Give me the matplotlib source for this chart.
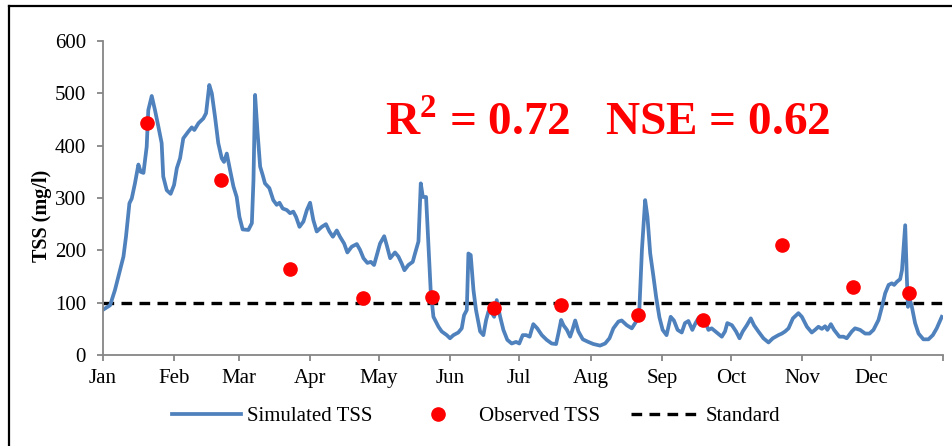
import numpy as np
import matplotlib
matplotlib.use("Agg")
import matplotlib.pyplot as plt
from matplotlib.lines import Line2D

plt.rcParams['font.family'] = ['Liberation Serif', 'DejaVu Serif']
plt.rcParams['mathtext.fontset'] = 'custom'
plt.rcParams['mathtext.rm'] = 'Liberation Serif'
plt.rcParams['mathtext.bf'] = 'Liberation Serif:bold'

# simulated TSS (day of year, mg/l)
sim_day = [0.3, 3.2, 5.3, 7.5, 9, 10.1, 11.6, 12.6, 14, 15.5, 16.5, 17.7, 19.1, 19.8, 21.3,
           22.7, 24.2, 25.6, 26.3, 27.8, 29.5, 31, 32.2, 33.6, 35, 37.2, 38.7, 39.8, 41.6,
           43.7, 44.9, 46.3, 47.4, 48.8, 50.2, 51.7, 52.7, 53.9, 55.3, 56.8, 58.2, 59.4,
           60.8, 63.3, 64.8, 65.5, 66.2, 67.2, 68.4, 69.5, 70.5, 72.4, 74.1, 75.6, 76.8,
           78.2, 80, 81.4, 82.8, 84, 85.5, 87.2, 88.7, 90.1, 91.5, 93, 95.2, 97, 98.5, 100,
           101.7, 103.1, 104.9, 106.3, 108.2, 110.4, 111.8, 113.3, 115, 116.5, 117.9, 119.3,
           120.5, 122.3, 123.4, 124.9, 127, 128.5, 129.9, 131.1, 132.8, 134.7, 135.7, 137.2,
           138.2, 139.1, 140.5, 141.5, 142.5, 143.7, 145.9, 147.3, 149.5, 150.9, 152.4,
           154.5, 156, 157, 158.2, 158.9, 159.9, 161.1, 162.2, 164, 165.4, 166.6, 167.6,
           169.1, 170.1, 171.2, 172.7, 174.1, 175.8, 177.7, 179.6, 181, 182.5, 184, 185.5,
           187.1, 188.8, 190.8, 192.9, 195.1, 197, 198, 199.2, 200.2, 201.7, 203.1, 204.1,
           205.3, 206.7, 208.6, 211, 213.2, 216.1, 218.3, 220.2, 221.9, 224.1, 225.5, 227.7,
           229.9, 231.8, 233.2, 234.3, 235.7, 236.7, 237.9, 239.3, 240.5, 241.9, 243.3, 245,
           246.8, 248.2, 249.8, 251.6, 253, 254.5, 256.2, 257.6, 258.8, 261, 263.2, 264.6,
           266.8, 269, 270.4, 271.4, 273.4, 275.2, 276.7, 278.1, 279.9, 281.6, 283, 284.9,
           287.1, 289.3, 291.2, 293.6, 295.1, 296.5, 298, 299.9, 302.3, 303.8, 306, 308.1,
           309.5, 311, 312.5, 313.9, 314.9, 316.4, 317.8, 320.1, 321.9, 323.3, 325.5, 326.9,
           329.1, 331.3, 333.2, 334.9, 337.1, 338.6, 340, 341.5, 342.9, 343.9, 345.1, 346.5,
           347.3, 348.7, 349.4, 349.9, 350.6, 351.6, 353, 354.5, 356.6, 358.8, 360.7, 362.4,
           364.6]
sim_tss = [87, 95, 124, 162, 188, 226, 290, 299, 328, 364, 350, 348, 398, 468, 495,
           468, 436, 405, 341, 315, 308, 325, 357, 376, 414, 427, 435, 430, 443,
           452, 462, 516, 500, 455, 405, 376, 369, 385, 354, 322, 302, 264,
           240, 239, 252, 334, 497, 430, 360, 344, 328, 319, 296, 287, 291,
           280, 277, 271, 274, 264, 245, 255, 277, 291, 258, 236, 245, 250, 236, 226,
           238, 226, 213, 196, 207, 212, 201, 185, 176, 178, 172, 194,
           213, 227, 210, 185, 196, 188, 175, 162, 172, 178, 194, 217,
           328, 302, 302, 213, 124, 73, 54, 45, 38, 32, 38,
           43, 51, 76, 86, 194, 191, 124, 86, 45, 38, 67, 83,
           80, 73, 105, 73, 48, 29, 22, 25, 22, 38, 38, 35,
           59, 51, 38, 29, 22, 21, 41, 67, 57, 48, 35, 48,
           66, 45, 30, 25, 21, 18, 22, 32, 51, 64, 66, 57,
           51, 64, 89, 201, 296, 264, 194, 150, 110, 72, 48, 38,
           73, 66, 48, 43, 61, 65, 48, 61, 70, 73, 48, 51,
           43, 35, 45, 61, 57, 45, 32, 45, 57, 70, 57, 45,
           32, 24, 32, 38, 41, 45, 51, 70, 80, 73, 54, 43,
           48, 54, 50, 55, 48, 59, 48, 35, 35, 32, 45, 51,
           48, 41, 41, 48, 67, 92, 118, 134, 137, 134, 140, 145,
           162, 248, 150, 92, 108, 92, 61, 41, 30, 30, 38, 51,
           73]

# observed TSS
obs_day = [19.3, 51.5, 81.5, 113.2, 143.2, 170, 199.2, 232.6, 261, 295, 326.1, 350.4]
obs_tss = [443, 334, 164, 109, 111, 90, 95, 77, 67, 210, 130, 118]

standard = 100
month_start = [0, 31, 59, 90, 120, 151, 181, 212, 243, 273, 304, 334]
month_names = ["Jan", "Feb", "Mar", "Apr", "May", "Jun", "Jul", "Aug", "Sep", "Oct", "Nov", "Dec"]

fig = plt.figure(figsize=(9.53, 4.46), dpi=100)
ax = fig.add_axes([0.1078, 0.204, 0.8814, 0.704])

l1, = ax.plot(sim_day, sim_tss, color='#4F81BD', lw=2.7, label="Simulated TSS", zorder=2)
l2, = ax.plot(obs_day, obs_tss, 'o', color='red', ms=9.5, label="Observed TSS", zorder=3)
l3, = ax.plot([0, 365], [standard, standard], color='black', lw=2.4,
              dashes=(3.2, 2.2), label="Standard", zorder=1)

ax.set_xlim(0, 365)
ax.set_ylim(0, 600)
ax.set_yticks(np.arange(0, 601, 100))
ax.set_xticks(month_start + [365])
ax.set_xticklabels(month_names + [""])

for s in ['top', 'right']:
    ax.spines[s].set_visible(False)
for s in ['left', 'bottom']:
    ax.spines[s].set_color('#868686')
    ax.spines[s].set_linewidth(1.3)
ax.tick_params(axis='both', colors='#868686', labelcolor='black', labelsize=15,
               length=4, width=1.3, direction='out')
ax.tick_params(axis='x', pad=6)
ax.tick_params(axis='y', pad=8)

ax.set_ylabel("TSS (mg/l)", fontsize=14.5, fontweight='bold')
ax.yaxis.set_label_coords(-0.0604, 0.4436)

ax.text(219.6, 443, r"R$^{\mathbf{2}}$ = 0.72   NSE = 0.62", color='red', fontsize=34,
        fontweight='bold', ha='center', va='center')

fig.legend(handles=[l1, l2, l3], loc='center', bbox_to_anchor=(0.5, 0.066), ncol=3,
           frameon=False, fontsize=15, handlelength=3.3, columnspacing=1.5,
           handletextpad=0.3)

# chart area frame (left and top edges only visible)
fig.add_artist(Line2D([0.0098, 0.0098], [0.0, 0.987], color='black', lw=1.6,
                      transform=fig.transFigure))
fig.add_artist(Line2D([0.0098, 1.0], [0.987, 0.987], color='black', lw=1.6,
                      transform=fig.transFigure))

fig.savefig("out.png", dpi=100)
